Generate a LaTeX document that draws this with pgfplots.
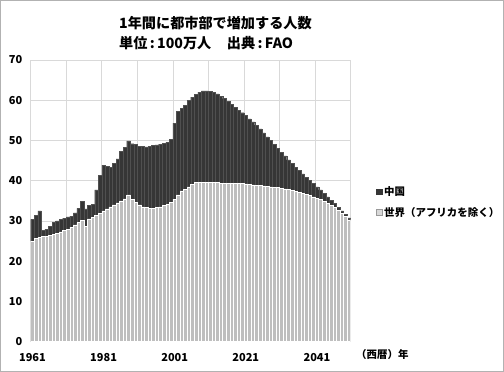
\documentclass[border=0pt]{standalone}
\usepackage{fontspec}
\setmainfont{Noto Sans CJK JP}
\usepackage{pgfplots}
\usepackage{pgfplotstable}
\pgfplotsset{compat=1.18}
\definecolor{darkbar}{HTML}{363636}
\definecolor{darkedge}{HTML}{505050}
\definecolor{lightbar}{HTML}{BEBEBE}
\definecolor{gridc}{HTML}{D9D9D9}
\pgfplotstableread{
year L D
1961 25.0 5.4
1962 25.6 5.8
1963 25.9 6.6
1964 26.1 1.5
1965 26.2 1.8
1966 26.5 2.1
1967 26.7 2.9
1968 27.0 3.0
1969 27.3 3.1
1970 27.6 3.1
1971 28.0 3.0
1972 28.5 2.7
1973 29.0 3.0
1974 29.6 3.5
1975 30.1 4.7
1976 28.7 4.3
1977 30.5 3.4
1978 30.9 3.2
1979 31.3 6.4
1980 31.8 9.6
1981 32.5 11.4
1982 33.0 10.6
1983 33.5 9.9
1984 34.0 10.3
1985 34.5 10.9
1986 35.0 12.3
1987 35.5 12.8
1988 36.5 13.4
1989 35.3 13.9
1990 34.6 14.4
1991 34.0 14.6
1992 33.5 15.0
1993 33.3 15.1
1994 33.2 15.4
1995 33.2 15.6
1996 33.3 15.6
1997 33.5 15.6
1998 33.8 15.5
1999 34.1 15.5
2000 34.6 15.7
2001 35.4 18.9
2002 36.5 20.8
2003 37.5 20.5
2004 37.9 20.9
2005 38.5 21.5
2006 39.1 21.7
2007 39.5 22.0
2008 39.6 22.4
2009 39.6 22.7
2010 39.6 22.7
2011 39.5 22.7
2012 39.5 22.5
2013 39.5 22.1
2014 39.4 21.6
2015 39.4 21.0
2016 39.4 20.3
2017 39.4 19.6
2018 39.3 18.9
2019 39.3 18.2
2020 39.3 17.6
2021 39.2 17.0
2022 39.1 16.3
2023 39.0 15.6
2024 38.9 14.9
2025 38.8 14.1
2026 38.7 13.2
2027 38.6 12.3
2028 38.5 11.5
2029 38.4 10.6
2030 38.3 9.8
2031 38.1 9.0
2032 38.0 8.2
2033 37.8 7.4
2034 37.6 6.7
2035 37.4 6.0
2036 37.1 5.4
2037 36.9 4.8
2038 36.6 4.3
2039 36.3 3.8
2040 36.0 3.3
2041 35.7 2.8
2042 35.3 2.4
2043 34.9 2.0
2044 34.4 1.6
2045 33.9 1.3
2046 33.3 1.0
2047 32.6 0.8
2048 31.9 0.6
2049 31.1 0.5
2050 30.3 0.5
}\datatable
\begin{document}
\begin{tikzpicture}
\useasboundingbox (0,0) rectangle (504bp,372bp);
\fill[white] (0,0) rectangle (504bp,372bp);
\draw[gray!60, line width=1.2bp] (0.6bp,0.6bp) rectangle (503.4bp,371.4bp);
\node[anchor=west, font=\bfseries\fontsize{14.2}{17}\selectfont, inner sep=0] at (119bp,349bp) {1年間に都市部で増加する人数};
\node[anchor=west, font=\bfseries\fontsize{14.2}{17}\selectfont, inner sep=0] at (119bp,329bp) {単位\,:\,100万人\hspace{1.1em}出典\,:\,FAO};
\node[anchor=west, font=\bfseries\fontsize{10.5}{12}\selectfont, inner sep=0] at (356bp,17bp) {（西暦）年};
\begin{axis}[
  at={(30.7bp,30.3bp)}, anchor=south west,
  scale only axis, width=320bp, height=281.7bp,
  ybar stacked, bar width=1,
  xmin=1960.5, xmax=2050.5, ymin=0, ymax=70,
  xtick={1961,1981,2001,2021,2041},
  minor xtick={1970.5,1980.5,...,2040.5},
  ytick={0,10,...,70},
  xminorgrids, ymajorgrids,
  grid style={draw=gridc, line width=0.8bp},
  minor grid style={draw=gridc, line width=0.8bp},
  axis line style={draw=gridc, line width=0.8bp},
  major tick length=0pt, minor tick length=0pt,
  tick style={draw=none},
  /pgf/number format/assume math mode=true,
  /pgf/number format/1000 sep={},
  tick label style={font=\bfseries\fontsize{11}{13}\selectfont},
  yticklabel style={xshift=-5bp},
  xticklabel style={yshift=-8bp},
  legend cell align=left,
  legend style={at={(1.07,0.565)}, anchor=north west, draw=none, fill=none,
    font=\bfseries\fontsize{10.5}{13}\selectfont, row sep=6bp,
    /tikz/every even column/.append style={column sep=2bp}},
  reverse legend,
]
\addplot[fill=lightbar, draw=white, line width=0.5bp,
  legend image code/.code={\draw[fill=lightbar!60, draw=gray!80, line width=0.5bp] (0bp,-2.7bp) rectangle (5.4bp,2.7bp);}]
  table[x=year, y=L] {\datatable};
\addplot[fill=darkbar, draw=darkedge, line width=0.35bp,
  legend image code/.code={\draw[fill=darkbar, draw=darkbar, line width=0.5bp] (0bp,-2.7bp) rectangle (5.4bp,2.7bp);}]
  table[x=year, y=D] {\datatable};
\legend{世界（アフリカを除く）,中国}
\end{axis}
\end{tikzpicture}
\end{document}
